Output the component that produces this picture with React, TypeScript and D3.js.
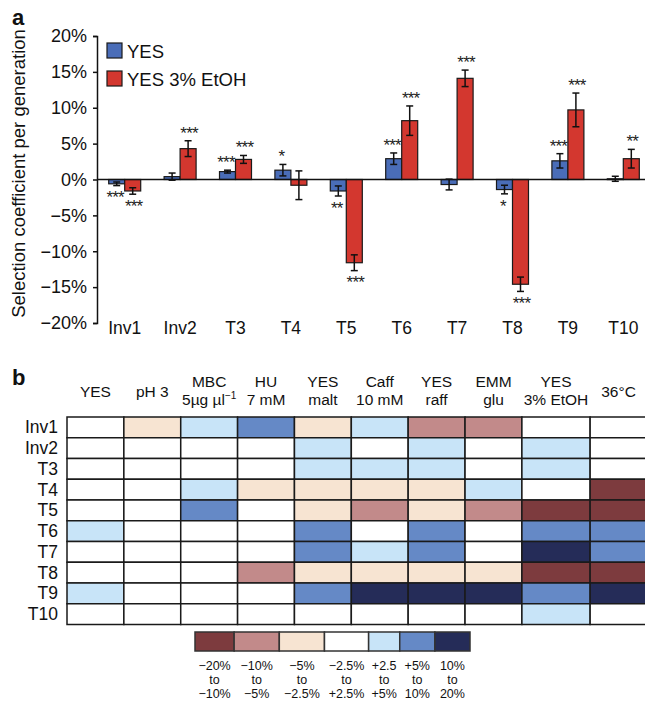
import React, { useEffect, useRef } from "react";
import * as d3 from "d3";

// ---- panel a: selection coefficients (%) ----
const strains = ["Inv1", "Inv2", "T3", "T4", "T5", "T6", "T7", "T8", "T9", "T10"];
const yesMean = [-0.6, 0.4, 1.1, 1.3, -1.6, 2.9, -0.7, -1.4, 2.6, 0.1];
const yesErr = [0.25, 0.5, 0.2, 0.8, 0.7, 0.8, 0.75, 0.6, 1.0, 0.35];
const yesSig = ["***", "", "***", "*", "**", "***", "", "*", "***", ""];
const etohMean = [-1.6, 4.3, 2.8, -0.8, -11.6, 8.2, 14.1, -14.6, 9.7, 2.9];
const etohErr = [0.45, 1.1, 0.55, 2.0, 1.1, 2.05, 1.15, 1.0, 2.35, 1.3];
const etohSig = ["***", "***", "***", "", "***", "***", "***", "***", "***", "**"];
const yTicks = [-20, -15, -10, -5, 0, 5, 10, 15, 20];
const seriesNames = ["YES", "YES 3% EtOH"];

// ---- panel b: heat map levels (-3 .. 3) ----
const conditions = ["YES", "pH 3", "MBC", "HU", "YES malt", "Caff", "YES raff", "EMM glu", "YES 3% EtOH", "36°C"];
const headerLines = [
  ["YES"], ["pH 3"], ["MBC", "5µg µl^−1"], ["HU", "7 mM"], ["YES", "malt"],
  ["Caff", "10 mM"], ["YES", "raff"], ["EMM", "glu"], ["YES", "3% EtOH"], ["36°C"],
];
const heatLevels = [
  [0, -1, 1, 2, -1, 1, -2, -2, 0, 0],
  [0, 0, 0, 0, 1, 0, 1, 0, 1, 0],
  [0, 0, 0, 0, 1, 1, 1, 0, 1, 0],
  [0, 0, 1, -1, -1, -1, -1, 1, 0, -3],
  [0, 0, 2, 0, -1, -2, -1, -2, -3, -3],
  [1, 0, 0, 0, 2, 0, 2, 0, 2, 2],
  [0, 0, 0, 0, 2, 1, 2, 0, 3, 2],
  [0, 0, 0, -2, -1, -1, -1, -1, -3, -3],
  [1, 0, 0, 0, 2, 3, 3, 3, 2, 3],
  [0, 0, 0, 0, 0, 0, 0, 0, 1, 0],
];
const levels = [-3, -2, -1, 0, 1, 2, 3];
const levelColors = ["#7d3b3e", "#c28a8a", "#f7e4d2", "#ffffff", "#c8e4f8", "#6589c6", "#252c58"];
const legendLabels = [
  ["−20%", "to", "−10%"], ["−10%", "to", "−5%"], ["−5%", "to", "−2.5%"], ["−2.5%", "to", "+2.5%"],
  ["+2.5", "to", "+5%"], ["+5%", "to", "10%"], ["10%", "to", "20%"],
];

const FONT = "'Liberation Sans', Arial, Helvetica, sans-serif";
const BLUE = "#4a6db8";
const RED = "#d3372f";

export default function App() {
  const axisRef = useRef<SVGGElement>(null);

  const x0 = d3.scaleBand().domain(strains).range([97, 651]);
  const pairW = 32;
  const x1 = d3.scaleBand().domain(seriesNames).range([0, pairW]);
  const y = d3.scaleLinear().domain([-20, 20]).range([323, 36]);

  useEffect(() => {
    const g = d3.select(axisRef.current);
    g.selectAll("*").remove();
    g.call(
      d3.axisLeft(y)
        .tickValues(yTicks)
        .tickSize(4)
        .tickPadding(6)
        .tickFormat((d: any) => (d < 0 ? "−" : "") + Math.abs(d) + "%")
    );
    g.select(".domain").attr("stroke", "#111").attr("stroke-width", 1.5);
    g.selectAll(".tick line").attr("stroke", "#111").attr("stroke-width", 1.5);
    g.selectAll(".tick text").attr("font-size", 18).attr("font-family", FONT).attr("fill", "#111");
  }, []);

  const series = [
    { name: seriesNames[0], mean: yesMean, err: yesErr, sig: yesSig, color: BLUE, starDx: -1.5 },
    { name: seriesNames[1], mean: etohMean, err: etohErr, sig: etohSig, color: RED, starDx: 1 },
  ];

  // heat map scales
  const colWeights = conditions.map((c) => (c === "YES 3% EtOH" ? 1.2 : 1));
  const colEdges = [0, ...d3.cumsum(colWeights)];
  const hx = d3.scaleLinear().domain([0, colEdges[colEdges.length - 1]]).range([67, 647]);
  const hy = d3.scaleBand().domain(strains).range([417, 624.5]);
  const color = d3.scaleOrdinal<number, string>().domain(levels).range(levelColors);

  const legWeights = [39, 45, 45, 44, 31, 35, 35];
  const legEdges = [0, ...d3.cumsum(legWeights)];
  const lx = d3.scaleLinear().domain([0, legEdges[legEdges.length - 1]]).range([195, 470]);

  const starSize = 17;

  return (
    <svg
      width={645}
      height={702}
      style={{ position: "absolute", left: 0, top: 0, background: "#fff" }}
      fontFamily={FONT}
    >
      {/* panel a */}
      <text x={12} y={25} fontSize={22} fontWeight="bold" fill="#111">a</text>
      <text
        transform={`translate(25,${(y(20) + y(-20)) / 2 - 6}) rotate(-90)`}
        textAnchor="middle"
        fontSize={18.5}
        fill="#111"
      >
        Selection coefficient per generation
      </text>
      <g ref={axisRef} transform="translate(97,0)" />

      {series.map((s) => (
        <g key={s.name}>
          {strains.map((st, i) => {
            const bx = (x0(st) as number) + (x0.bandwidth() - pairW) / 2 + (x1(s.name) as number);
            const bw = x1.bandwidth();
            const v = s.mean[i];
            const yTop = y(Math.max(v, 0));
            const yBot = y(Math.min(v, 0));
            const cx = bx + bw / 2;
            const eHi = y(v + s.err[i]);
            const eLo = y(v - s.err[i]);
            const up = v >= 0;
            const starCenter = up ? eHi - 12 : eLo + 8;
            return (
              <g key={st}>
                <rect x={bx} y={yTop} width={bw} height={Math.max(yBot - yTop, 0.8)} fill={s.color} stroke="#1a1a1a" strokeWidth={1.2} />
                <line x1={cx} x2={cx} y1={eHi} y2={eLo} stroke="#111" strokeWidth={1.5} />
                <line x1={cx - 3.5} x2={cx + 3.5} y1={eHi} y2={eHi} stroke="#111" strokeWidth={1.5} />
                <line x1={cx - 3.5} x2={cx + 3.5} y1={eLo} y2={eLo} stroke="#111" strokeWidth={1.5} />
                {s.sig[i] && (
                  <text
                    x={cx + s.starDx}
                    y={starCenter + starSize * 0.58}
                    textAnchor="middle"
                    fontSize={starSize}
                    letterSpacing={-0.8}
                    fill="#222"
                  >
                    {s.sig[i]}
                  </text>
                )}
              </g>
            );
          })}
        </g>
      ))}
      <line x1={97} x2={645} y1={y(0)} y2={y(0)} stroke="#111" strokeWidth={1.5} />

      {strains.map((st) => (
        <text key={st} x={(x0(st) as number) + x0.bandwidth() / 2} y={334} textAnchor="middle" fontSize={17.5} fill="#111">
          {st}
        </text>
      ))}

      {/* legend a */}
      {series.map((s, i) => (
        <g key={s.name} transform={`translate(107,${43 + i * 28})`}>
          <rect x={0} y={0} width={15} height={15} fill={s.color} stroke="#1a1a1a" strokeWidth={1.2} />
          <text x={20} y={14.5} fontSize={18.5} fill="#111">{s.name}</text>
        </g>
      ))}

      {/* panel b */}
      <text x={12} y={385} fontSize={22} fontWeight="bold" fill="#111">b</text>
      {headerLines.map((lines, j) => {
        const cx = (hx(colEdges[j]) + hx(colEdges[j + 1])) / 2;
        const ys = lines.length === 1 ? [397] : [387, 405];
        return (
          <g key={j}>
            {lines.map((ln, k) => {
              const [main, sup] = ln.split("^");
              return (
                <text key={k} x={cx} y={ys[k]} textAnchor="middle" fontSize={15.5} fill="#111">
                  {main}
                  {sup && <tspan dy={-6} fontSize={10}>{sup}</tspan>}
                </text>
              );
            })}
          </g>
        );
      })}
      {strains.map((st, i) => (
        <g key={st}>
          <text x={58} y={(hy(st) as number) + hy.bandwidth() / 2 + 6} textAnchor="end" fontSize={17.5} fill="#111">
            {st}
          </text>
          {conditions.map((c, j) => (
            <rect
              key={c}
              x={hx(colEdges[j])}
              y={hy(st)}
              width={hx(colEdges[j + 1]) - hx(colEdges[j])}
              height={hy.bandwidth()}
              fill={color(heatLevels[i][j])}
              stroke="#1a1a1a"
              strokeWidth={1.5}
            />
          ))}
        </g>
      ))}

      {/* legend b */}
      {levels.map((lv, k) => {
        const lx0 = lx(legEdges[k]);
        const lx1 = lx(legEdges[k + 1]);
        const cx = (lx0 + lx1) / 2;
        return (
          <g key={lv}>
            <rect x={lx0} y={632} width={lx1 - lx0} height={19} fill={color(lv)} stroke="#333" strokeWidth={1.5} />
            {legendLabels[k].map((t, r) => (
              <text key={r} x={cx} y={670 + r * 14} textAnchor="middle" fontSize={12.5} fill="#111">
                {t}
              </text>
            ))}
          </g>
        );
      })}
    </svg>
  );
}
